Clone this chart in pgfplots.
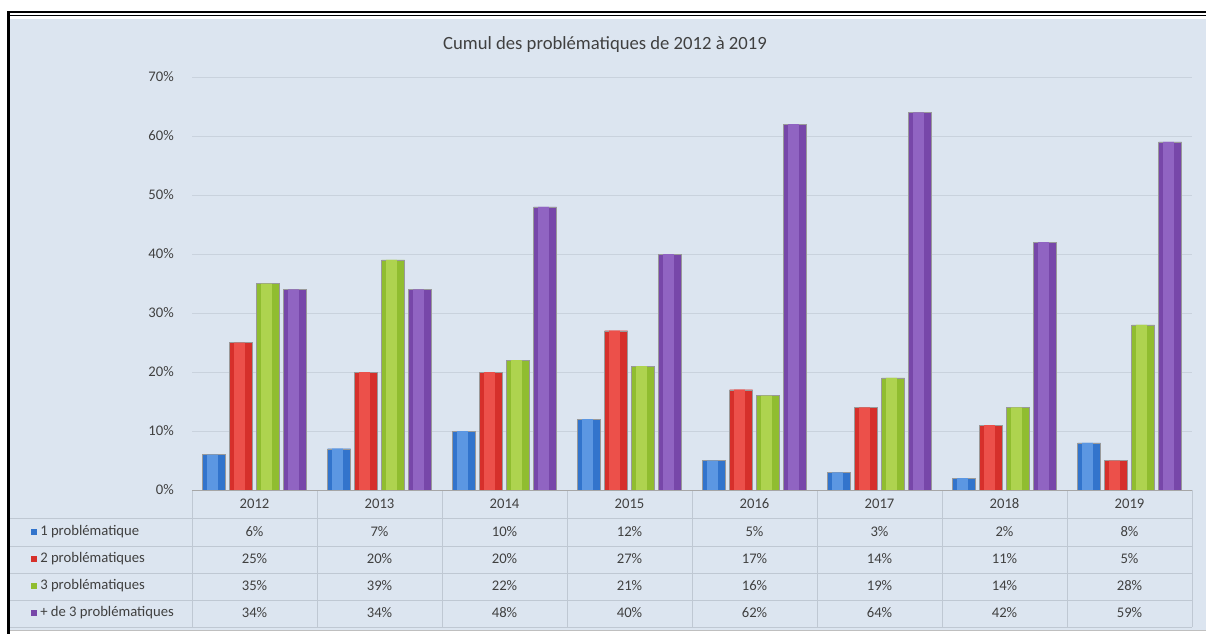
\documentclass[border=0pt]{standalone}
\usepackage{fontspec}
\setmainfont{Carlito}
\usepackage{pgfplots}
\pgfplotsset{compat=1.18}
\definecolor{bg}{HTML}{DCE5F0}
\definecolor{cblue}{HTML}{3274CC}
\definecolor{lblue}{HTML}{5C97E2}
\definecolor{cred}{HTML}{D6302B}
\definecolor{lred}{HTML}{EC504A}
\definecolor{cgreen}{HTML}{90BD30}
\definecolor{lgreen}{HTML}{AED34F}
\definecolor{cpurple}{HTML}{7747A9}
\definecolor{lpurple}{HTML}{9064C2}
\definecolor{gridc}{HTML}{C9D2DD}
\definecolor{tabc}{HTML}{BFC8D3}
\definecolor{txt}{HTML}{404040}
\pgfplotstableread{
x s1 s2 s3 s4
0 6 25 35 34
1 7 20 39 34
2 10 20 22 48
3 12 27 21 40
4 5 17 16 62
5 3 14 19 64
6 2 11 14 42
7 8 5 28 59
}\datatab
\tikzset{px/.style={x=0.75pt,y=-0.75pt}}
\pgfplotsset{
  outer/.style={ybar, bar width=17.25pt, bar shift=#1, draw=black!40, line width=0.3pt},
  inner/.style={ybar, bar width=8pt, bar shift=#1, draw=none, forget plot}
}
\begin{document}
\begin{tikzpicture}
\begin{scope}[px]
\useasboundingbox (0,0) rectangle (1206,634);
\fill[white] (0,0) rectangle (1206,634);
\fill[bg] (10,19) rectangle (1206,630);
\draw[gray!50] (10,630.5) -- (1206,630.5);
\fill[black] (7,11) rectangle (1206,13.5);
\fill[black] (9.5,15) rectangle (1206,16.2);
\fill[black] (7,11) rectangle (9.5,634);
\node[font=\fontsize{14}{16}\selectfont, text=txt] at (605,45) {Cumul des problématiques de 2012 à 2019};
\end{scope}
\begin{axis}[
  at={(144pt,-367.5pt)}, anchor=south west,
  width=750pt, height=309.75pt, scale only axis,
  xmin=-0.5, xmax=7.5, ymin=0, ymax=70,
  axis line style={draw=none},
  ymajorgrids, grid style={gridc, line width=0.6pt},
  ytick={0,10,...,70}, yticklabel={\pgfmathprintnumber{\tick}\%},
  xtick=\empty,
  tick style={draw=none},
  yticklabel style={font=\fontsize{11}{13}\selectfont, text=txt, inner sep=0pt, xshift=-13.5pt},
  /pgf/number format/assume math mode=true,
  clip=false,
]
\addplot[outer=-30.375pt, fill=cblue] table[x=x,y=s1] {\datatab};
\addplot[inner=-31.5pt, fill=lblue] table[x=x,y=s1] {\datatab};
\addplot[outer=-10.125pt, fill=cred] table[x=x,y=s2] {\datatab};
\addplot[inner=-11.25pt, fill=lred] table[x=x,y=s2] {\datatab};
\addplot[outer=10.125pt, fill=cgreen] table[x=x,y=s3] {\datatab};
\addplot[inner=9pt, fill=lgreen] table[x=x,y=s3] {\datatab};
\addplot[outer=30.375pt, fill=cpurple] table[x=x,y=s4] {\datatab};
\addplot[inner=29.25pt, fill=lpurple] table[x=x,y=s4] {\datatab};
\end{axis}
\begin{scope}[px]
\foreach \yy in {518,546,573,600,627} \draw[tabc, line width=0.6pt] (10,\yy) -- (1192,\yy);
\foreach \k in {0,...,8} \draw[tabc, line width=0.6pt] (192+125*\k,490) -- (192+125*\k,627);
\draw[gray!70, line width=0.7pt] (192,490) -- (1192,490);
\begin{scope}[every node/.style={font=\fontsize{11}{13}\selectfont, text=txt}]
\foreach \v [count=\i from 0] in {2012,2013,2014,2015,2016,2017,2018,2019} \node at (254.5+125*\i,504) {\v};
\foreach \v [count=\i from 0] in {6,7,10,12,5,3,2,8} \node at (254.5+125*\i,532) {\v\%};
\foreach \v [count=\i from 0] in {25,20,20,27,17,14,11,5} \node at (254.5+125*\i,559) {\v\%};
\foreach \v [count=\i from 0] in {35,39,22,21,16,19,14,28} \node at (254.5+125*\i,586) {\v\%};
\foreach \v [count=\i from 0] in {34,34,48,40,62,64,42,59} \node at (254.5+125*\i,613) {\v\%};
\fill[cblue] (31,529) rectangle (37,535);
\fill[cred] (31,556) rectangle (37,562);
\fill[cgreen] (31,583) rectangle (37,589);
\fill[cpurple] (31,610) rectangle (37,616);
\node[anchor=west, inner sep=0pt] at (40,532) {1 problématique};
\node[anchor=west, inner sep=0pt] at (40,559) {2 problématiques};
\node[anchor=west, inner sep=0pt] at (40,586) {3 problématiques};
\node[anchor=west, inner sep=0pt] at (40,613) {+ de 3 problématiques};
\end{scope}
\end{scope}
\end{tikzpicture}
\end{document}
